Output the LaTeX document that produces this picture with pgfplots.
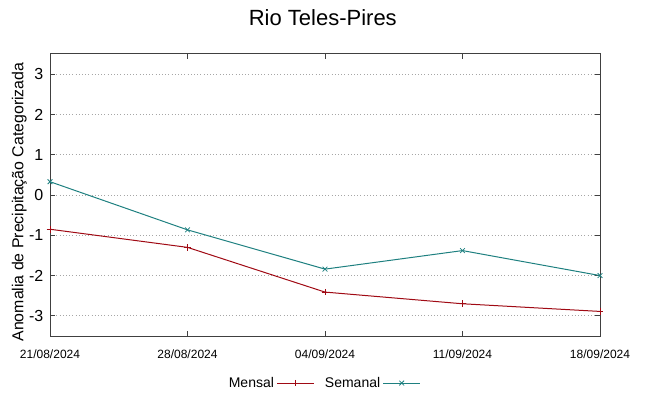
\documentclass[border=0pt]{standalone}
\usepackage{pgfplots}
\pgfplotsset{compat=1.18}
\usepackage{fontspec}
\setmainfont{Liberation Sans}
\definecolor{mensal}{HTML}{A00A14}
\definecolor{semanal}{HTML}{1E8080}
\begin{document}
\begin{tikzpicture}
\useasboundingbox (0,0) rectangle (486.75pt,297pt);
\begin{axis}[
  at={(37.5pt,45pt)}, anchor=south west,
  scale only axis, width=412.5pt, height=211.5pt,
  xmin=0, xmax=4, ymin=-3.5, ymax=3.5,
  xtick={0,1,2,3,4},
  xticklabels={21/08/2024,28/08/2024,04/09/2024,11/09/2024,18/09/2024},
  ytick={-3,-2,-1,0,1,2,3},
  /pgf/number format/assume math mode=true,
  tick align=inside,
  major tick length=3.5pt,
  tick style={black!75, line width=0.6pt},
  axis line style={black!75, line width=0.75pt},
  ymajorgrids,
  major grid style={dotted, gray!70, line width=0.6pt},
  xticklabel style={font=\fontsize{9}{10}\selectfont, yshift=-7pt},
  yticklabel style={font=\fontsize{12}{13}\selectfont, xshift=-1.5pt},
  title={Rio Teles-Pires},
  title style={font=\fontsize{16.5}{18}\selectfont, at={(axis description cs:0.496,1.099)}, anchor=center},
  ylabel={Anomalia de Precipitação Categorizada},
  ylabel style={font=\fontsize{11.9}{13}\selectfont, at={(axis description cs:-0.056,0.475)}, anchor=center},
  legend columns=2,
  legend plot pos=right,
  legend style={draw=none, fill=none, at={(axis description cs:0.497,-0.167)}, anchor=center,
    font=\fontsize{10.5}{12}\selectfont, /tikz/every even column/.append style={column sep=6pt},
    inner sep=0pt},
  legend image code/.code={\draw[mark repeat=2,mark phase=2] plot coordinates {(0pt,0pt)(13.75pt,0pt)(27.5pt,0pt)};},
]
\addplot[color=mensal, line width=0.75pt, mark=+, mark size=2.5pt, mark options={line width=0.6pt}]
  coordinates {(0,-0.85) (1,-1.30) (2,-2.41) (3,-2.70) (4,-2.89)};
\addlegendentry{Mensal}
\addplot[color=semanal, line width=0.75pt, mark=x, mark size=2.5pt, mark options={line width=0.6pt}]
  coordinates {(0,0.33) (1,-0.865) (2,-1.84) (3,-1.38) (4,-2.0)};
\addlegendentry{Semanal}
\end{axis}
\end{tikzpicture}
\end{document}
